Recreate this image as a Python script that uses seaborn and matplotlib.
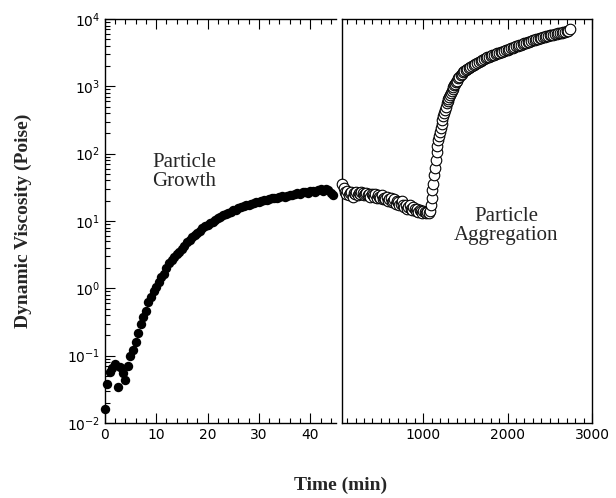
#!/usr/bin/env python3
import numpy as np
import pandas as pd
import matplotlib
matplotlib.use("Agg")
import matplotlib.pyplot as plt
import matplotlib.ticker as mticker
import seaborn as sns

# values (time in min, viscosity in Poise)

# stage 1: particle growth (filled dots)
GROWTH_T = [0.0, 0.5, 1.0, 1.5, 2.0, 2.5, 3.0, 3.5, 4.0, 4.5,
            5.0, 5.5, 6.0, 6.5, 7.0, 7.5, 8.0, 8.5, 9.0, 9.5,
            10.0, 10.5, 11.0, 11.5, 12.0, 12.5, 13.0, 13.5, 14.0, 14.5,
            15.0, 15.5, 16.0, 16.5, 17.0, 17.5, 18.0, 18.5, 19.0, 19.5,
            20.0, 20.5, 21.0, 21.5, 22.0, 22.5, 23.0, 23.5, 24.0, 24.5,
            25.0, 25.5, 26.0, 26.5, 27.0, 27.5, 28.0, 28.5, 29.0, 29.5,
            30.0, 30.5, 31.0, 31.5, 32.0, 32.5, 33.0, 33.5, 34.0, 34.5,
            35.0, 35.5, 36.0, 36.5, 37.0, 37.5, 38.0, 38.5, 39.0, 39.5,
            40.0, 40.5, 41.0, 41.5, 42.0, 42.5, 43.0, 43.5, 44.0, 44.5]
GROWTH_V = [0.016, 0.038, 0.058, 0.066, 0.075, 0.034, 0.068, 0.056, 0.044, 0.070,
            0.10, 0.12, 0.16, 0.22, 0.30, 0.38, 0.46, 0.62, 0.75, 0.90,
            1.05, 1.25, 1.45, 1.65, 2.0, 2.4, 2.6, 2.9, 3.2, 3.5,
            3.9, 4.3, 4.8, 5.2, 5.7, 6.2, 6.6, 7.0, 7.8, 8.3,
            8.8, 9.4, 9.8, 10.3, 11.0, 11.6, 12.2, 12.6, 13.3, 13.8,
            14.5, 14.8, 15.6, 16.0, 16.7, 17.3, 17.5, 18.2, 18.5, 19.0,
            19.3, 19.8, 20.2, 20.5, 21.3, 21.6, 22.2, 22.0, 22.9, 23.3,
            22.8, 23.9, 24.6, 24.2, 25.5, 26.0, 25.3, 26.6, 27.2, 26.5,
            27.8, 28.3, 27.1, 28.9, 29.5, 27.8, 29.8, 28.5, 26.0, 24.5]

# stage 2: particle aggregation (open circles)
AGG_T = [45, 60, 75, 90, 105, 120, 135, 150, 165, 180,
         195, 210, 225, 240, 255, 270, 285, 300, 315, 330,
         345, 360, 375, 390, 405, 420, 435, 450, 465, 480,
         495, 510, 525, 540, 555, 570, 585, 600, 615, 630,
         645, 660, 675, 690, 705, 720, 735, 750, 765, 780,
         795, 810, 825, 840, 855, 870, 885, 900, 915, 930,
         945, 960, 975, 990, 1005, 1020, 1035, 1050, 1065, 1080,
         1090, 1100, 1110, 1120, 1130, 1140, 1150, 1160, 1170, 1180,
         1190, 1200, 1210, 1220, 1230, 1240, 1250, 1260, 1270, 1280,
         1290, 1300, 1310, 1320, 1330, 1340, 1350, 1360, 1370, 1380,
         1390, 1400, 1415, 1430, 1445, 1460, 1475, 1490, 1505,
         1520, 1540, 1560, 1580, 1600, 1620, 1640, 1660, 1680, 1700,
         1720, 1740, 1760, 1780, 1800, 1820, 1840, 1860, 1880, 1900,
         1920, 1940, 1960, 1980, 2000, 2020, 2040, 2060, 2080, 2100,
         2120, 2140, 2160, 2180, 2200, 2220, 2240, 2260, 2280, 2300,
         2320, 2340, 2360, 2380, 2400, 2420, 2440, 2460, 2480, 2500,
         2520, 2540, 2560, 2580, 2600, 2620, 2640, 2660, 2680, 2700,
         2720, 2740]
AGG_V = [36, 31, 27, 25, 28, 24, 26, 27, 23, 26,
         25, 27, 24, 26, 25, 27, 26, 24, 25, 26,
         24, 25, 23, 25, 24, 23, 25, 22, 24, 23,
         22, 24, 21, 22, 21, 23, 20, 21, 22, 19,
         20, 21, 18, 20, 19, 17, 18, 20, 17, 16,
         17, 15, 16, 17, 15, 14.5, 16, 15, 14, 15,
         13.5, 14.5, 14, 13, 14, 13.5, 13, 13.5, 13.2, 14,
         17, 22, 29, 36, 48, 62, 80, 105, 130, 160,
         185, 210, 240, 280, 320, 360, 400, 450, 500, 560,
         610, 650, 700, 750, 800, 860, 920, 980, 1040, 1100,
         1160, 1220, 1310, 1400, 1480, 1550, 1620, 1680, 1730,
         1780, 1850, 1930, 2010, 2090, 2170, 2250, 2330, 2420, 2490,
         2560, 2630, 2700, 2760, 2830, 2890, 2960, 3020, 3090, 3150,
         3220, 3290, 3360, 3430, 3510, 3590, 3670, 3750, 3840, 3920,
         4000, 4090, 4170, 4260, 4350, 4440, 4530, 4620, 4710, 4800,
         4890, 4980, 5070, 5160, 5260, 5350, 5440, 5530, 5620, 5700,
         5790, 5870, 5950, 6030, 6110, 6190, 6270, 6350, 6450, 6550,
         6700, 7100]

LEFT_XTICKS = [0, 10, 20, 30, 40]
RIGHT_XTICKS = [1000, 2000, 3000]

XLABEL = 'Time (min)'
YLABEL = 'Dynamic Viscosity (Poise)'
GROWTH_TEXT = 'Particle\nGrowth'
AGG_TEXT = 'Particle\nAggregation'

SERIF = 'Liberation Serif'


def style_axis(ax, xlim, major, minor_step):
    ax.set_yscale('log')
    ax.set_ylim(1e-2, 1e4)
    ax.set_xlim(*xlim)
    ax.xaxis.set_major_locator(mticker.FixedLocator(major))
    ax.xaxis.set_minor_locator(mticker.MultipleLocator(minor_step))
    ax.tick_params(which='both', direction='in', top=True, bottom=True,
                   width=0.8, labelsize=10, colors='black')
    ax.tick_params(which='major', length=7)
    ax.tick_params(which='minor', length=3.5)
    for sp in ax.spines.values():
        sp.set_linewidth(1.0)
        sp.set_color('black')
    ax.set_xlabel('')
    ax.set_ylabel('')


def main():
    sns.set_style('ticks')
    plt.rcParams['font.family'] = ['DejaVu Sans']
    plt.rcParams['mathtext.default'] = 'regular'

    growth = pd.DataFrame({'t': GROWTH_T, 'v': GROWTH_V})
    agg = pd.DataFrame({'t': AGG_T, 'v': AGG_V})

    fig = plt.figure(figsize=(6.16, 4.98), dpi=100)
    ax_l = fig.add_axes([0.170, 0.1506, 0.3755, 0.8112])
    ax_r = fig.add_axes([0.5552, 0.1506, 0.4058, 0.8112], sharey=ax_l)

    sns.scatterplot(data=growth, x='t', y='v', ax=ax_l, color='black',
                    s=46, linewidth=0, clip_on=False, zorder=3)
    sns.scatterplot(data=agg, x='t', y='v', ax=ax_r, facecolor='white',
                    edgecolor='black', s=58, linewidth=0.8, clip_on=False,
                    zorder=3)

    style_axis(ax_l, (0, 45), LEFT_XTICKS, 2)
    style_axis(ax_r, (40, 3000), RIGHT_XTICKS, 100)

    # left panel carries the y axis, the right one only the divider line
    ax_l.spines['right'].set_visible(False)
    ax_l.tick_params(which='both', left=True, right=False)
    ax_r.tick_params(which='both', left=False, right=False, labelleft=False)

    ax_l.set_ylabel(YLABEL, family=SERIF, fontweight='bold', fontsize=14,
                    labelpad=25)
    fig.text(0.553, 0.025, XLABEL, family=SERIF, fontweight='bold',
             fontsize=14, ha='center', va='center')

    ax_l.text(15.4, 54, GROWTH_TEXT, family=SERIF, fontsize=15,
              ha='center', va='center', linespacing=1.0)
    ax_r.text(1982, 8.4, AGG_TEXT, family=SERIF, fontsize=15,
              ha='center', va='center', linespacing=1.0)

    fig.savefig('out.png', dpi=100)
    plt.close()


if __name__ == '__main__':
    main()
